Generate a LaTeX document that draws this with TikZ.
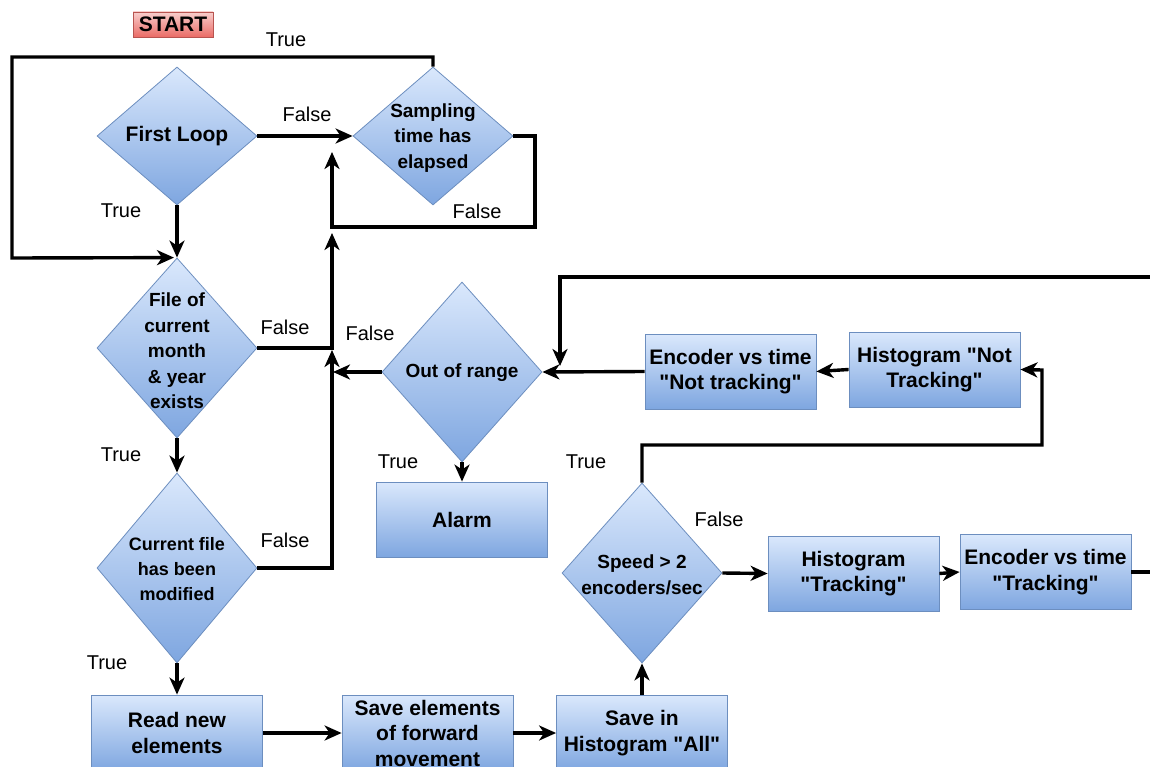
\documentclass[tikz,border=0pt]{standalone}
\usepackage{fontspec}
\setmainfont{Liberation Sans}[Ligatures=TeXOff]
\usetikzlibrary{shapes.geometric,arrows.meta}

\definecolor{bluetop}{HTML}{DAE8FC}
\definecolor{bluebot}{HTML}{7EA6E0}
\definecolor{blueline}{HTML}{6C8EBF}
\definecolor{redtop}{HTML}{F8CECC}
\definecolor{redbot}{HTML}{EA6B66}
\definecolor{redline}{HTML}{B85450}

\begin{document}
\begin{tikzpicture}[x=1pt,y=-1pt,
  flow/.style={draw=blueline, line width=0.8pt, top color=bluetop, bottom color=bluebot},
  decision/.style={flow, shape=diamond, inner sep=0pt, minimum width=160pt, minimum height=180pt},
  process/.style={flow, rectangle, inner sep=0pt, minimum width=171pt, minimum height=75pt,
    align=center, font=\bfseries\fontsize{21}{25.5}\selectfont},
  dtext/.style={align=center, inner sep=0pt, font=\bfseries\fontsize{19}{25.5}\selectfont},
  lbl/.style={inner sep=0pt, font=\fontsize{20}{24}\selectfont},
  wire/.style={line width=3.4pt},
  arr/.style={wire, -{Stealth[length=17pt,width=15pt,inset=5pt]}}
]
\useasboundingbox (0,0) rectangle (1150,767);
\clip (0,0) rectangle (1150,767);

% start marker
\node[draw=redline, line width=0.8pt, top color=redtop, bottom color=redbot,
      minimum width=80pt, minimum height=25pt, inner sep=0pt,
      font=\bfseries\fontsize{21}{24}\selectfont] (start) at (173,24.5) {START};

% decisions
\node[decision, minimum height=138pt] (first) at (177,136) {};
\node[dtext, font=\bfseries\fontsize{21}{25}\selectfont] (firstT) at (first) {First Loop};

\node[decision, minimum height=138pt] (samp) at (433,136) {};
\node[dtext] (sampT) at (433,138) {Sampling\\time has\\elapsed};

\node[decision] (file) at (177,348) {};
\node[dtext] (fileT) at (177,351) {File of\\current\\month\\\& year\\exists};

\node[decision, minimum height=190pt] (cur) at (177,568) {};
\node[dtext, font=\bfseries\fontsize{18}{25}\selectfont] (curT) at (177,569) {Current file\\has been\\modified};

\node[decision] (range) at (462,372) {};
\node[dtext] (rangeT) at (462,373) {Out of range};

\node[decision] (speed) at (642,573) {};
\node[dtext] (speedT) at (642,575) {Speed > 2\\encoders/sec};

% processes
\node[process, minimum height=76pt] (read)  at (177,733) {Read new\\elements};
\node[process, minimum height=76pt] (save)  at (427.5,733) {Save elements\\of forward\\movement};
\node[process, minimum height=76pt] (saveH) at (642,733) {Save in\\Histogram "All"};
\node[process] (alarm) at (462,519.5) {Alarm};
\node[process] (encNT)  at (730.5,371.5) {Encoder vs time\\"Not tracking"};
\node[process] (histNT) at (934.5,369.5) {Histogram "Not\\Tracking"};
\node[process] (histT)  at (853.5,573.5) {Histogram\\"Tracking"};
\node[process] (encT)   at (1045.5,572) {Encoder vs time\\"Tracking"};

% waypoints of routed connectors
\coordinate (topR) at (433,57);
\coordinate (topL) at (12,57);
\coordinate (botL) at (12,258);
\coordinate (sR1) at (535,136);
\coordinate (sR2) at (535,227);
\coordinate (sL)  at (332,227);
\coordinate (sEnd) at (332,152);
\coordinate (fR)  at (332,348);
\coordinate (fEnd) at (332,233);
\coordinate (cR)  at (332,568);
\coordinate (cEnd) at (332,350);
\coordinate (rEnd) at (333,372);
\coordinate (eR1) at (1175,572);
\coordinate (eR2) at (1175,277);
\coordinate (eL)  at (560,277);
\coordinate (eEnd) at (560,366);
\coordinate (sp1) at (642,445);
\coordinate (sp2) at (1042,445);
\coordinate (sp3) at (1042,370);

% connectors
\draw[arr] (first.east) -- (samp.west);
\draw[arr] (first.south) -- (file.north);
\draw[arr] (samp.north) -- (topR) -- (topL) -- (botL) -- ([xshift=-3pt]file.north);
\draw[arr] (samp.east) -- (sR1) -- (sR2) -- (sL) -- (sEnd);
\draw[arr] (file.east) -- (fR) -- (fEnd);
\draw[arr] (cur.east) -- (cR) -- (cEnd);
\draw[arr] (range.west) -- (rEnd);
\draw[arr] (file.south) -- (cur.north);
\draw[arr] (cur.south) -- (read.north);
\draw[arr] (read.east) -- (save.west);
\draw[arr] (save.east) -- (saveH.west);
\draw[arr] (saveH.north) -- (speed.south);
\draw[arr] (speed.east) -- (histT.west);
\draw[arr] (histT.east) -- (encT.west);
\draw[arr] (encT.east) -- (eR1) -- (eR2) -- (eL) -- (eEnd);
\draw[arr] (speed.north) -- (sp1) -- (sp2) -- (sp3) -- (histNT.east);
\draw[arr] (histNT.west) -- (encNT.east);
\draw[arr] (encNT.west) -- (range.east);
\draw[arr] (range.south) -- (alarm.north);

% branch labels
\node[lbl] (l1)  at (286,40)  {True};
\node[lbl] (l2)  at (307,114) {False};
\node[lbl] (l3)  at (121,211) {True};
\node[lbl] (l4)  at (477,211) {False};
\node[lbl] (l5)  at (285,327) {False};
\node[lbl] (l6)  at (370,333) {False};
\node[lbl] (l7)  at (121,455) {True};
\node[lbl] (l8)  at (398,462) {True};
\node[lbl] (l9)  at (586,462) {True};
\node[lbl] (l10) at (719,519) {False};
\node[lbl] (l11) at (285,540) {False};
\node[lbl] (l12) at (107,663) {True};
\end{tikzpicture}
\end{document}
